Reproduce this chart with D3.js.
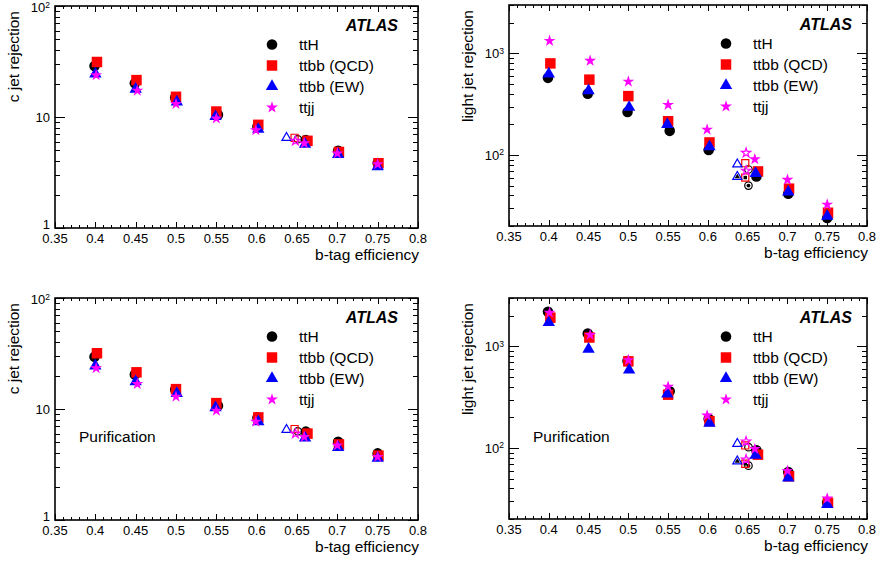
<!DOCTYPE html>
<html>
<head>
<meta charset="utf-8">
<script src="https://cdn.jsdelivr.net/npm/d3@7"></script>
<style>
  html, body { margin: 0; padding: 0; background: #fff; }
  svg { display: block; font-family: "Liberation Sans", Arial, Helvetica, sans-serif; }
</style>
</head>
<body>
<svg id="chart" width="880" height="562"></svg>
<script>
// ---- data -------------------------------------------------------------
const seriesNames = ["ttH", "ttbb (QCD)", "ttbb (EW)", "ttjj"];

// b-tag efficiency reached by each sample at each working point
const effTTH  = [0.399, 0.449, 0.499, 0.552, 0.601, 0.661, 0.701, 0.750];
const effQCD  = [0.402, 0.451, 0.500, 0.550, 0.602, 0.663, 0.702, 0.751];
const effEW   = [0.400, 0.450, 0.501, 0.549, 0.602, 0.660, 0.701, 0.750];
const effTTJJ = [0.401, 0.452, 0.500, 0.550, 0.599, 0.659, 0.700, 0.750];

// c jet rejection
const cRejTTH  = [28.8, 20.1, 15.0, 10.5, 8.2, 6.2, 4.97, 3.85];
const cRejQCD  = [31.3, 21.5, 15.2, 11.2, 8.5, 6.1, 4.84, 3.83];
const cRejEW   = [24.4, 17.8, 13.7, 10.1, 7.75, 5.7, 4.6, 3.57];
const cRejTTJJ = [23.8, 17.3, 13.1, 9.7, 7.6, 5.8, 4.7, 3.75];

// light jet rejection
const lRejTTH  = [575, 401, 265, 173, 112, 61.5, 41.6, 24];
const lRejQCD  = [798, 552, 380, 215, 133, 68.9, 46.6, 27];
const lRejEW   = [630, 430, 295, 200, 121, 66, 43.3, 25];
const lRejTTJJ = [1330, 847, 528, 312, 178, 90.8, 57, 32.5];

// c jet rejection after purification
const cPurTTH  = [29.6, 20.5, 15.0, 10.7, 8.36, 6.25, 5.07, 3.98];
const cPurQCD  = [31.8, 21.4, 15.1, 11.3, 8.4, 6.0, 4.8, 3.8];
const cPurEW   = [24.4, 17.6, 13.8, 10.3, 7.7, 5.5, 4.5, 3.6];
const cPurTTJJ = [23.3, 16.8, 12.9, 9.66, 7.7, 5.6, 4.7, 3.7];

// light jet rejection after purification
const lPurTTH  = [2200, 1340, 720, 362, 194, 95, 58, 29];
const lPurQCD  = [1920, 1225, 713, 335, 184, 86, 52.7, 28.9];
const lPurEW   = [1720, 942, 586, 341, 176, 85, 50.8, 27.8];
const lPurTTJJ = [2150, 1300, 734, 402, 209, 98, 59.6, 31.8];

// alternative operating points near 65% (open markers), order: ttH, QCD, EW, ttjj
const altEff      = [0.651, 0.647, 0.637, 0.648];
const altCRej     = [6.3, 6.5, 6.5, 6.1];
const altCPur     = [6.3, 6.6, 6.5, 6.0];
const altLRejA    = [72, 83, 81, 105];
const altLRejB    = [50, 60, 61, 70];
const altLPurA    = [102, 106, 110, 116];
const altLPurB    = [67, 70, 74, 77];

const xTicks = [0.35, 0.4, 0.45, 0.5, 0.55, 0.6, 0.65, 0.7, 0.75, 0.8];
const xTickLabels = ["0.35", "0.4", "0.45", "0.5", "0.55", "0.6", "0.65", "0.7", "0.75", "0.8"];

// ---- styling ----------------------------------------------------------
const colors = ["#000000", "#ff0000", "#0000ff", "#ff00ff"];
const shapes = [d3.symbolCircle, d3.symbolSquare, d3.symbolTriangle, d3.symbolStar];
const sizes  = [88, 110, 66, 44];
const openSizes = [44, 50, 36, 26];

const panels = [
  { left: 55,  right: 418, top: 6,   bottom: 228, yDomain: [1, 100],   yTitle: "c jet rejection",
    eff: [effTTH, effQCD, effEW, effTTJJ], vals: [cRejTTH, cRejQCD, cRejEW, cRejTTJJ],
    alt: [{ v: altCRej, dot: false }], purification: false,
    yLabels: [[1, "1", null], [10, "10", null], [100, "10", "2"]] },
  { left: 509, right: 867, top: 5,   bottom: 226, yDomain: [20, 3000], yTitle: "light jet rejection",
    eff: [effTTH, effQCD, effEW, effTTJJ], vals: [lRejTTH, lRejQCD, lRejEW, lRejTTJJ],
    alt: [{ v: altLRejA, dot: false }, { v: altLRejB, dot: true }], purification: false,
    yLabels: [[100, "10", "2"], [1000, "10", "3"]] },
  { left: 55,  right: 418, top: 298, bottom: 520, yDomain: [1, 100],   yTitle: "c jet rejection",
    eff: [effTTH, effQCD, effEW, effTTJJ], vals: [cPurTTH, cPurQCD, cPurEW, cPurTTJJ],
    alt: [{ v: altCPur, dot: false }], purification: true,
    yLabels: [[1, "1", null], [10, "10", null], [100, "10", "2"]] },
  { left: 509, right: 867, top: 298, bottom: 519, yDomain: [20, 3000], yTitle: "light jet rejection",
    eff: [effTTH, effQCD, effEW, effTTJJ], vals: [lPurTTH, lPurQCD, lPurEW, lPurTTJJ],
    alt: [{ v: altLPurA, dot: false }, { v: altLPurB, dot: true }], purification: true,
    yLabels: [[100, "10", "2"], [1000, "10", "3"]] }
];

const svg = d3.select("#chart");

function minorLogTicks(lo, hi) {
  const out = [];
  for (let e = Math.floor(Math.log10(lo)); e <= Math.ceil(Math.log10(hi)); e++) {
    for (let m = 1; m <= 9; m++) {
      const v = m * Math.pow(10, e);
      if (v >= lo - 1e-9 && v <= hi + 1e-9) out.push({ v, major: m === 1 });
    }
  }
  return out;
}

panels.forEach(p => {
  const g = svg.append("g");
  const x = d3.scaleLinear().domain([0.35, 0.8]).range([p.left, p.right]);
  const y = d3.scaleLog().domain(p.yDomain).range([p.bottom, p.top]);

  // ticks on all four sides, pointing inwards
  const ticks = g.append("g").attr("stroke", "#000").attr("stroke-width", 1);
  d3.range(35, 81).forEach(k => {
    const v = k / 100;
    const major = k % 5 === 0;
    const len = major ? 6 : 3;
    const px = Math.round(x(v)) + 0.5;
    ticks.append("line").attr("x1", px).attr("x2", px)
      .attr("y1", p.bottom).attr("y2", p.bottom - len);
    ticks.append("line").attr("x1", px).attr("x2", px)
      .attr("y1", p.top).attr("y2", p.top + len);
  });
  minorLogTicks(p.yDomain[0], p.yDomain[1]).forEach(t => {
    const len = t.major ? 10 : 5;
    const py = Math.round(y(t.v)) + 0.5;
    ticks.append("line").attr("y1", py).attr("y2", py)
      .attr("x1", p.left).attr("x2", p.left + len);
    ticks.append("line").attr("y1", py).attr("y2", py)
      .attr("x1", p.right).attr("x2", p.right - len);
  });

  // frame
  g.append("rect").attr("x", p.left).attr("y", p.top)
    .attr("width", p.right - p.left).attr("height", p.bottom - p.top)
    .attr("fill", "none").attr("stroke", "#000").attr("stroke-width", 1.6);

  // x tick labels
  g.append("g").selectAll("text").data(xTicks).join("text")
    .attr("x", d => x(d)).attr("y", p.bottom + 14.5)
    .attr("text-anchor", "middle").attr("font-size", 13)
    .text((d, i) => xTickLabels[i]);

  // y tick labels (powers of ten)
  p.yLabels.forEach(([v, base, sup]) => {
    const isBottom = Math.abs(y(v) - p.bottom) < 1;
    const isTop = Math.abs(y(v) - p.top) < 1;
    const t = g.append("text")
      .attr("x", p.left - 5)
      .attr("y", y(v) + (isTop ? 1.5 : 0) - (isBottom ? 4 : 0))
      .attr("dy", "0.35em")
      .attr("text-anchor", "end").attr("font-size", 13);
    t.append("tspan").text(base);
    if (sup) t.append("tspan").attr("font-size", 8.5).attr("dy", -4.5).text(sup);
  });

  // axis titles
  g.append("text").attr("x", p.right + 1).attr("y", p.bottom + 32)
    .attr("text-anchor", "end").attr("font-size", 15.5).text("b-tag efficiency");
  g.append("text")
    .attr("transform", `translate(${p.left - 36},${p.top + 5}) rotate(-90)`)
    .attr("text-anchor", "end").attr("font-size", 15.5).text(p.yTitle);

  // ATLAS label
  g.append("text").attr("x", p.left + 343).attr("y", p.top + 25)
    .attr("text-anchor", "end").attr("font-size", 16)
    .attr("font-weight", "bold").attr("font-style", "italic").text("ATLAS");

  if (p.purification) {
    g.append("text").attr("x", p.left + 24).attr("y", p.top + 144)
      .attr("font-size", 15.5).text("Purification");
  }

  // legend
  seriesNames.forEach((name, i) => {
    const ly = p.top + 38.5 + i * 21;
    g.append("path")
      .attr("d", d3.symbol().type(shapes[i]).size(sizes[i])())
      .attr("transform", `translate(${p.left + 217},${ly})`)
      .attr("fill", colors[i]);
    g.append("text").attr("x", p.left + 244).attr("y", ly).attr("dy", "0.36em")
      .attr("font-size", 15.5).text(name);
  });

  // open markers at the alternative operating points
  p.alt.forEach(set => {
    set.v.forEach((val, i) => {
      const cx = x(altEff[i]), cy = y(val);
      g.append("path")
        .attr("d", d3.symbol().type(shapes[i]).size(openSizes[i])())
        .attr("transform", `translate(${cx},${cy})`)
        .attr("fill", "none").attr("stroke", colors[i]).attr("stroke-width", 1.2);
      if (set.dot && i < 3) {
        g.append("path")
          .attr("d", d3.symbol().type(shapes[i]).size(12)())
          .attr("transform", `translate(${cx},${cy})`)
          .attr("fill", "#000");
      }
    });
  });

  // filled markers, one series after another
  p.vals.forEach((vals, i) => {
    g.append("g").selectAll("path").data(vals).join("path")
      .attr("d", d3.symbol().type(shapes[i]).size(sizes[i])())
      .attr("transform", (d, j) => `translate(${x(p.eff[i][j])},${y(d)})`)
      .attr("fill", colors[i]);
  });
});
</script>
</body>
</html>
